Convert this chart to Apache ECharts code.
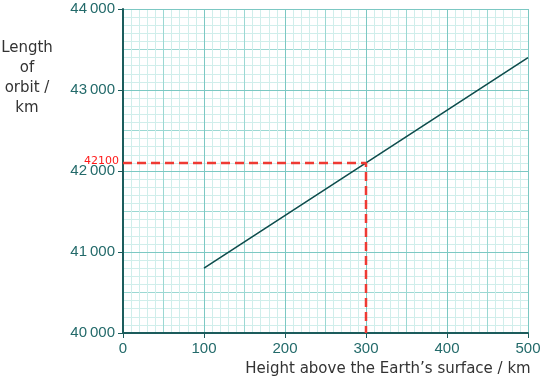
<!DOCTYPE html>
<html><head><meta charset="utf-8">
<script src="https://cdn.jsdelivr.net/npm/echarts@6/dist/echarts.min.js"></script>
<style>html,body{margin:0;padding:0;background:#fff}#c{width:542px;height:381px}</style>
</head><body><div id="c"></div>
<script>
const heights = [100, 300, 500];
const orbitLengths = [40800, 42100, 43400];
const readX = [0, 300, 300];
const readY = [42100, 42100, 40000];
const readLabel = '42100';
const xTicks = [0, 100, 200, 300, 400, 500];
const yTicks = [40000, 41000, 42000, 43000, 44000];
const xName = 'Height above the Earth\u2019s surface / km';
const yName = ['Length', 'of', 'orbit /', 'km'];

const labelFont = '"Comic Sans MS", "DejaVu Sans", sans-serif';
const tickFont = '"Liberation Sans", Arial, sans-serif';
const fmtY = v => String(v).replace(/(\d{2})(\d{3})$/, '$1\u2009$2');

const LIGHT = '#d0eeeb', MID = '#9bd8d3', MAJOR = '#7cc8c3', AXIS = '#1c5c5c';

function gridAxis(min, max, interval, pos) {
  return {
    type: 'value', position: pos, min: min, max: max, interval: interval, z: 0,
    axisLine: {show: false}, axisTick: {show: false}, axisLabel: {show: false},
    minorTick: {show: false, splitNumber: 5},
    minorSplitLine: {show: true, lineStyle: {color: LIGHT, width: 1}},
    splitLine: {show: true, lineStyle: {color: MID, width: 1}}
  };
}
function mainAxis(min, max, interval, pos, fmt) {
  return {
    type: 'value', position: pos, min: min, max: max, interval: interval, z: 3,
    axisLine: {show: true, onZero: false, lineStyle: {color: AXIS, width: 2}},
    axisTick: {show: true, length: 5, lineStyle: {color: AXIS, width: 1}},
    axisLabel: {color: '#236a6a', fontSize: 15, fontFamily: tickFont, margin: 8, formatter: fmt},
    splitLine: {show: true, lineStyle: {color: MAJOR, width: 1}}
  };
}

const chart = echarts.init(document.getElementById('c'), null, {renderer: 'canvas'});
chart.setOption({
  animation: false,
  backgroundColor: '#fff',
  grid: {left: 123, right: 14, top: 9, bottom: 48, containLabel: false, outerBoundsMode: 'none'},
  xAxis: [
    gridAxis(xTicks[0], xTicks[xTicks.length-1], 50, 'bottom'),
    mainAxis(xTicks[0], xTicks[xTicks.length-1], 100, 'bottom', null)
  ],
  yAxis: [
    gridAxis(yTicks[0], yTicks[yTicks.length-1], 500, 'left'),
    mainAxis(yTicks[0], yTicks[yTicks.length-1], 1000, 'left', fmtY)
  ],
  graphic: [
    {type: 'text', z: 10, style: {
      text: yName.join('\n'), x: 27, y: 38, textAlign: 'center',
      fill: '#333', font: '15px ' + labelFont, lineHeight: 20}},
    {type: 'text', z: 10, style: {
      text: xName, x: 388, y: 362, textAlign: 'center',
      fill: '#333', font: '15px ' + labelFont}}
  ],
  series: [
    {
      type: 'line', xAxisIndex: 1, yAxisIndex: 1, z: 5, symbol: 'none', silent: true,
      data: heights.map((h, i) => [h, orbitLengths[i]]),
      lineStyle: {color: '#0f4d4d', width: 1.6}
    },
    {
      type: 'line', xAxisIndex: 1, yAxisIndex: 1, z: 6, symbol: 'none', silent: true,
      data: readX.map((x, i) => [x, readY[i]]),
      lineStyle: {color: '#ee3a33', width: 2.5, type: [9, 5]},
      markPoint: {
        symbol: 'circle', symbolSize: 0,
        data: [{coord: [readX[0], readY[0]], value: readLabel}],
        label: {show: true, position: 'left', distance: 4, color: '#ff1a1a', fontSize: 11,
                fontFamily: '"DejaVu Sans", sans-serif', formatter: readLabel, offset: [0, -2]}
      }
    }
  ]
});
</script></body></html>
